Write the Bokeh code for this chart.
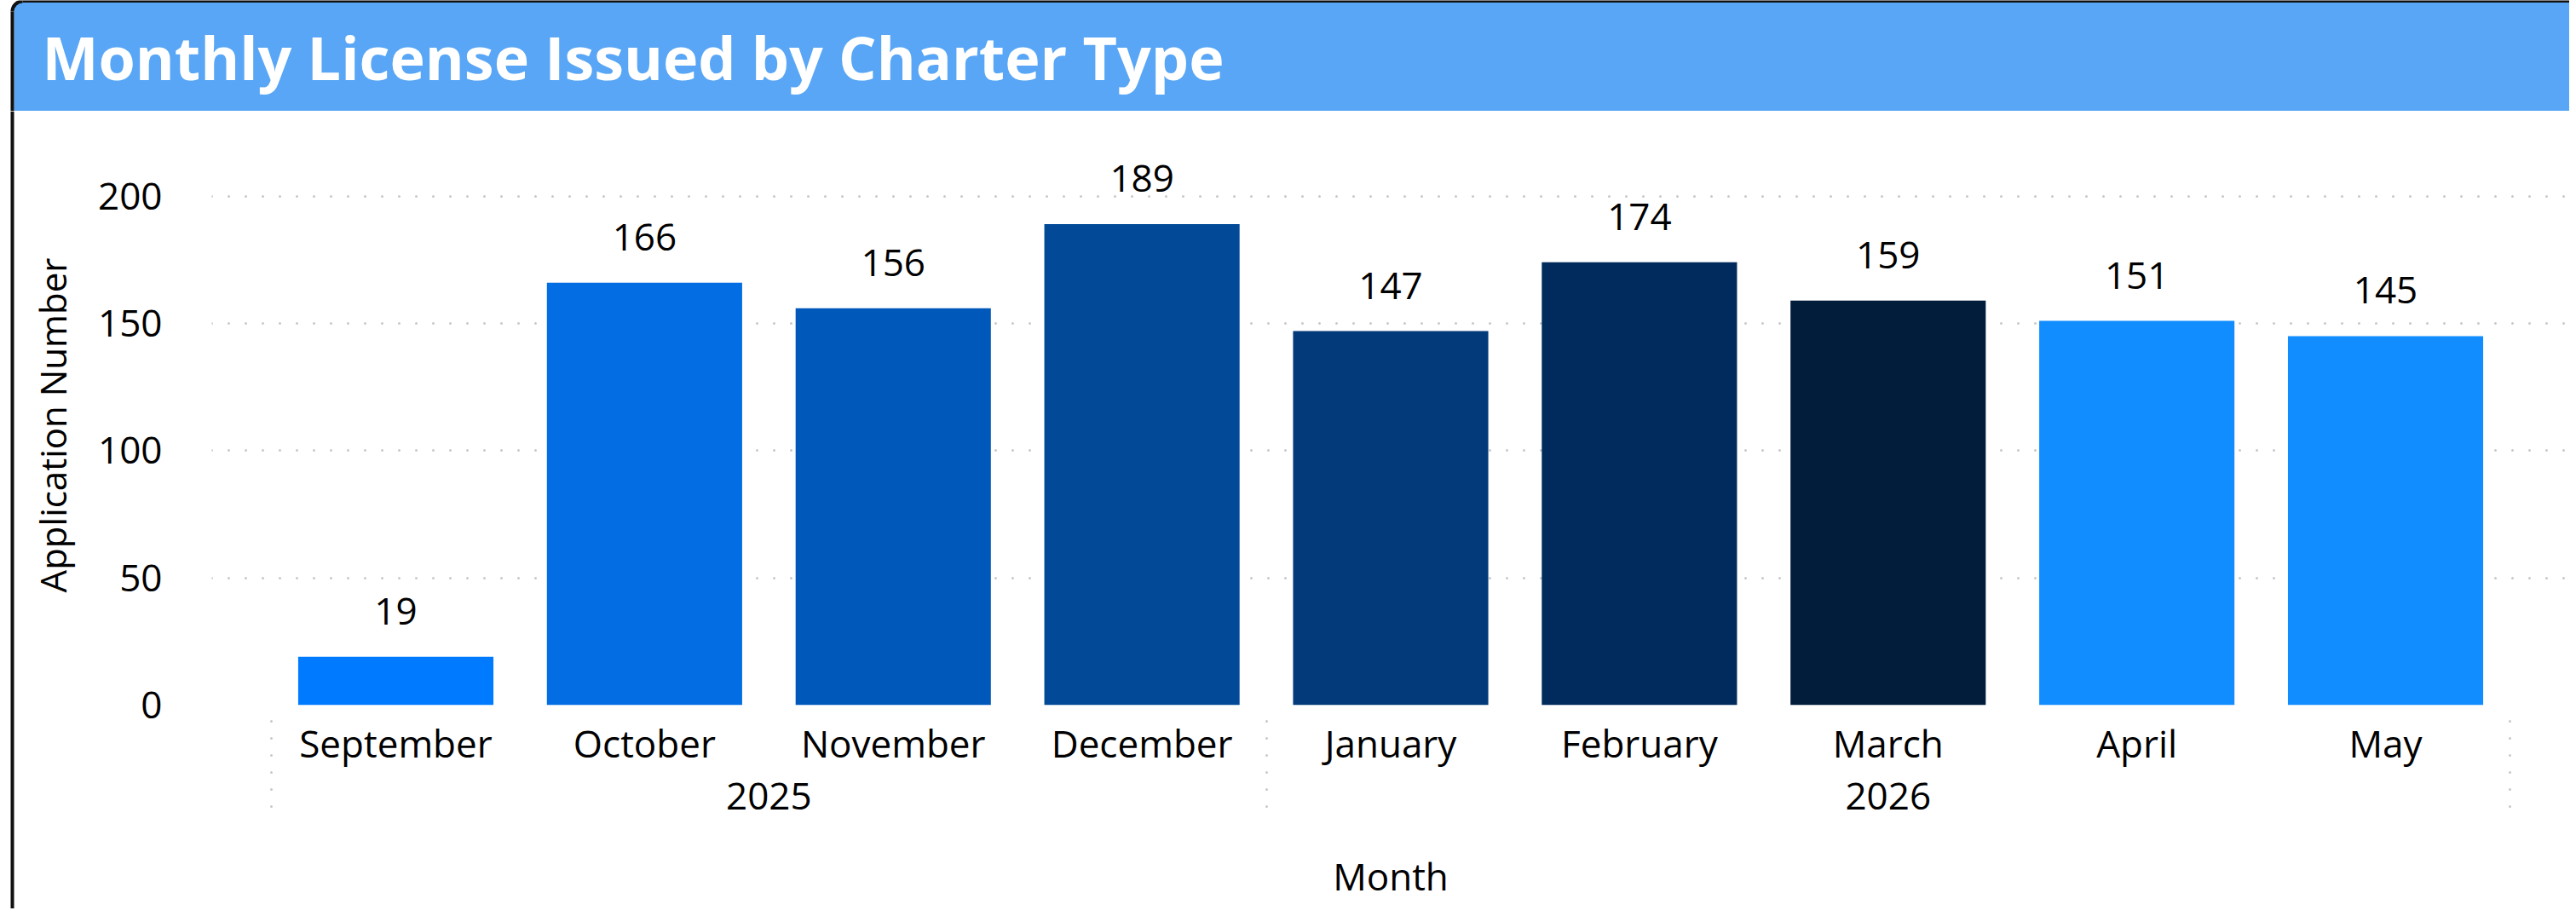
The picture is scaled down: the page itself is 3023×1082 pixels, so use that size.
import math
from bokeh.plotting import figure
from bokeh.models import ColumnDataSource, FactorRange, LabelSet, Range1d, FixedTicker
from bokeh.layouts import column, row
from bokeh.embed import file_html
from bokeh.resources import INLINE
from bokeh.core.properties import value

# ---------------- data ----------------
years = ["2025", "2025", "2025", "2025", "2026", "2026", "2026", "2026", "2026"]
months = ["September", "October", "November", "December",
          "January", "February", "March", "April", "May"]
applications = [19, 166, 156, 189, 147, 174, 159, 151, 145]
y_ticks = [0, 50, 100, 150, 200]
title_text = "Monthly License Issued by Charter Type"
x_title = "Month"
y_title = "Application Number"

# ---------------- style ----------------
bar_colors = ["#007BFF", "#036DE3", "#0058BB", "#024A98", "#023A7A",
              "#002B5C", "#021D3B", "#118DFF", "#118DFF"]
HEADER_BLUE = "#58A6F5"
GRID = "#C8C8C8"
FONT = "Open Sans"
TXT = "#000000"
BORDER = "#111111"

W = 3015
HEADER_H = 130
MAIN_H = 936
STRIP_W = 20
BX = 14          # x of the card's left border line
R = 12           # corner radius

factors = list(zip(years, months))
src = ColumnDataSource(dict(
    x=factors,
    value=applications,
    label=[str(v) for v in applications],
    color=bar_colors,
))

def bare(fig):
    fig.grid.visible = False
    fig.outline_line_color = None
    return fig

# ---------------- header (title bar) ----------------
h = bare(figure(width=W, height=HEADER_H, x_range=Range1d(0, W), y_range=Range1d(0, HEADER_H),
                output_backend="svg", toolbar_location=None, min_border=0, frame_align=False,
                title=None, x_axis_location=None, y_axis_location=None))
h.quad(left=BX + 2, right=W, bottom=0, top=HEADER_H - 2, fill_color=HEADER_BLUE, line_color=None)
cy = HEADER_H - 1 - R
cx = BX + R
h.annular_wedge(x=[cx], y=[cy], inner_radius=R, outer_radius=R + 12, start_angle=math.pi / 2,
                end_angle=math.pi, fill_color="white", line_color=None)
h.arc(x=[cx], y=[cy], radius=R, start_angle=math.pi / 2, end_angle=math.pi,
      line_color=BORDER, line_width=4)
h.segment(x0=BX, y0=0, x1=BX, y1=cy, line_width=4, line_color=BORDER)
h.segment(x0=cx, y0=HEADER_H - 1, x1=W, y1=HEADER_H - 1, line_width=3, line_color=BORDER)
h.text(x=[49], y=[64], text=[title_text], text_font=value(FONT), text_font_size="70px",
       text_font_style="bold", text_color="white", text_baseline="alphabetic")

# ---------------- left border strip ----------------
s = bare(figure(width=STRIP_W, height=MAIN_H, x_range=Range1d(0, STRIP_W), y_range=Range1d(0, MAIN_H),
                output_backend="svg", toolbar_location=None, min_border=0, frame_align=False,
                title=None, x_axis_location=None, y_axis_location=None))
s.segment(x0=BX, y0=0, x1=BX, y1=MAIN_H, line_width=4, line_color=BORDER)

# ---------------- main chart ----------------
# blank outer groups only make the axis draw the outer group separators;
# the negative padding keeps them outside the visible range
edge_l, edge_r = (" ", " "), ("  ", "  ")
all_factors = [edge_l] + factors + [edge_r]
n_all = len(all_factors)
x_range = FactorRange(factors=all_factors, group_padding=0, subgroup_padding=0, factor_padding=0,
                      range_padding=-2 * 0.76 / n_all, range_padding_units="percent")
p = figure(x_range=x_range, y_range=Range1d(0, 220), width=W - STRIP_W, height=MAIN_H,
           output_backend="svg", toolbar_location=None, frame_align=False, title=None,
           min_border_left=228, min_border_right=0, min_border_top=40, min_border_bottom=239,
           x_axis_label=x_title, y_axis_label=y_title)
p.outline_line_color = None
p.xgrid.visible = False
p.ygrid.grid_line_color = GRID
p.ygrid.grid_line_width = 3
p.ygrid.grid_line_dash = "0 20"
p.ygrid.grid_line_cap = "round"

p.vbar(x="x", top="value", width=0.785, fill_color="color", line_color=None, source=src)

labels = LabelSet(x="x", y="value", text="label", source=src, y_offset=38,
                  text_align="center", text_baseline="alphabetic",
                  text_font=value(FONT), text_font_size="44px", text_color=TXT)
p.add_layout(labels)

# y axis
p.yaxis.ticker = FixedTicker(ticks=y_ticks)
p.yaxis.axis_line_color = None
p.yaxis.major_tick_line_color = None
p.yaxis.minor_tick_line_color = None
p.yaxis.major_tick_out = 0
p.yaxis.major_tick_in = 0
p.yaxis.major_label_standoff = 58
p.yaxis.major_label_text_font = FONT
p.yaxis.major_label_text_font_size = "44px"
p.yaxis.major_label_text_color = TXT
p.yaxis.axis_label_text_font = FONT
p.yaxis.axis_label_text_font_size = "42px"
p.yaxis.axis_label_text_font_style = "normal"
p.yaxis.axis_label_text_color = TXT
p.yaxis.axis_label_standoff = 22

# x axis
p.xaxis.axis_line_color = None
p.xaxis.major_tick_line_color = None
p.xaxis.minor_tick_line_color = None
p.xaxis.major_tick_out = 0
p.xaxis.major_tick_in = 0
p.xaxis.major_label_standoff = 14
p.xaxis.major_label_text_font = FONT
p.xaxis.major_label_text_font_size = "44px"
p.xaxis.major_label_text_color = TXT
p.xaxis.major_label_orientation = "horizontal"
p.xaxis.group_text_font = FONT
p.xaxis.group_text_font_size = "44px"
p.xaxis.group_text_color = TXT
p.xaxis.group_text_font_style = "normal"
p.xaxis.separator_line_color = GRID
p.xaxis.separator_line_width = 3
p.xaxis.separator_line_dash = "0 20"
p.xaxis.separator_line_cap = "round"
p.xaxis.axis_label_text_font = FONT
p.xaxis.axis_label_text_font_size = "44px"
p.xaxis.axis_label_text_font_style = "normal"
p.xaxis.axis_label_text_color = TXT
p.xaxis.axis_label_standoff = 45

layout = column(h, row(s, p))
open("out.html", "w").write(file_html(layout, INLINE))
